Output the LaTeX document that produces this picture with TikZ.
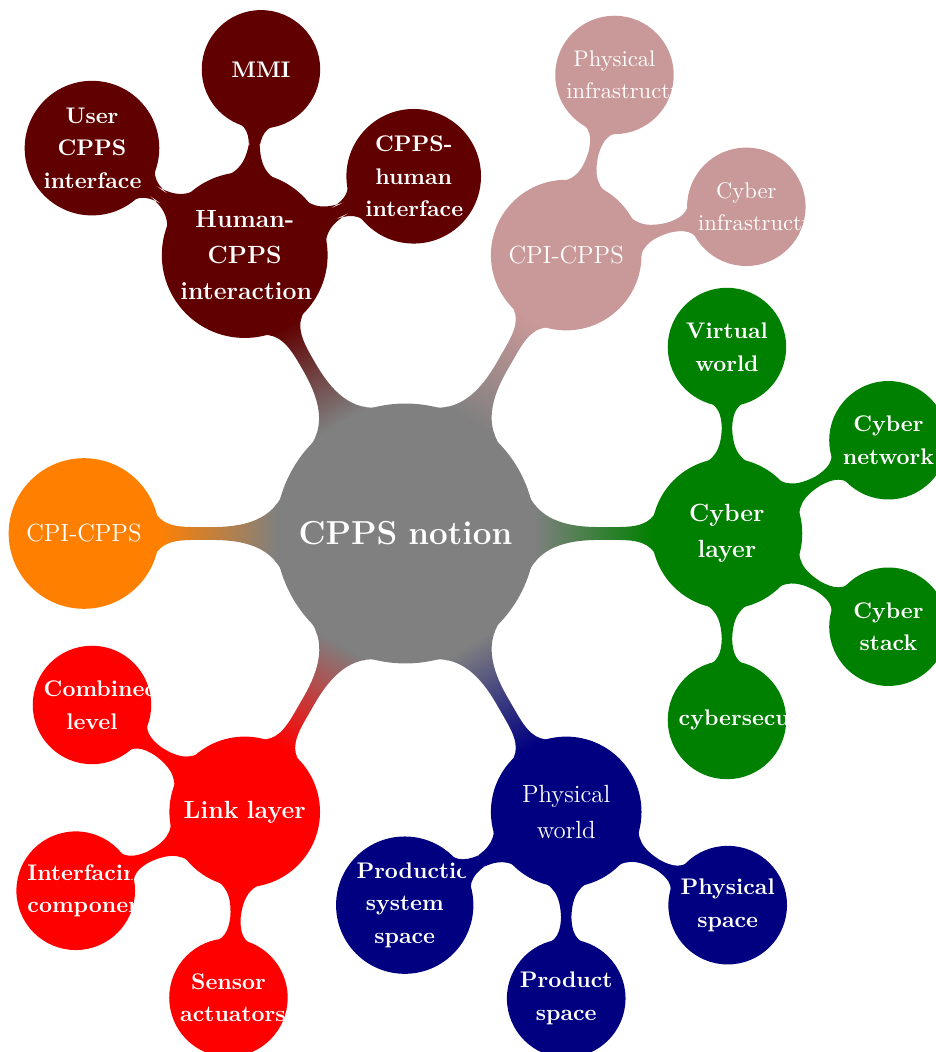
\documentclass[tikz,border=0pt]{standalone}
\usepackage{xcolor}
\usepackage{tikz}
\usetikzlibrary{mindmap,trees,positioning}

\definecolor{cppsRoot}{gray}{0.5}
\definecolor{cppsHuman}{HTML}{600000}
\definecolor{cppsCPI}{HTML}{C99898}
\definecolor{cppsCyber}{HTML}{008000}
\definecolor{cppsPhys}{HTML}{000080}
\definecolor{cppsLink}{HTML}{FF0000}
\definecolor{cppsOrange}{HTML}{FF8000}

\begin{document}
\begin{tikzpicture}[mindmap, text=white, concept color=cppsRoot,
    every node/.style={concept, execute at begin node={\hyphenpenalty=10000}},
    root concept/.append style={minimum size=4cm,
      text width=3.5cm, font=\fontsize{14.7}{18}\selectfont\bfseries},
    level 1 concept/.append style={minimum size=2.3cm, text width=2cm,
      font=\fontsize{11}{16}\selectfont},
    level 2 concept/.append style={minimum size=1.8cm, text width=1.5cm,
      font=\fontsize{10}{14.4}\selectfont},
    level 1/.append style={level distance=5cm},
    level 2/.append style={level distance=2.9cm}]
  \useasboundingbox (-6.306,-8.064) rectangle (8.250,8.297);
  \node[root concept] (notion) {CPPS notion}
    % human interaction
    child[concept color=cppsHuman, grow=120] {node (human) {\textbf{Human-CPPS interaction}}
      child[grow=145] {node (userif) {\textbf{User CPPS interface}}}
      child[grow=85] {node (mmi) {\textbf{MMI}}}
      child[grow=25] {node (humanif) {\textbf{CPPS-human interface}}}
    }
    % infrastructure
    child[concept color=cppsCPI, grow=60] {node (cpi) {CPI-CPPS}
      child[grow=75] {node (physinfra) {Physical infrastructure}}
      child[grow=15] {node (cyberinfra) {Cyber infrastructure}}
    }
    % cyber layer
    child[concept color=cppsCyber, grow=0] {node (cyber) {\textbf{Cyber layer}}
      child[grow=90] {node (virtual) {\textbf{Virtual world}}}
      child[grow=30] {node (network) {\textbf{Cyber network}}}
      child[grow=-30] {node (stack) {\textbf{Cyber stack}}}
      child[grow=-90] {node (security) {\textbf{cybersecurity}}}
    }
    % physical world
    child[concept color=cppsPhys, grow=-60] {node (phys) {Physical world}
      child[grow=-30] {node (physspace) {\textbf{Physical space}}}
      child[grow=-90] {node (prodspace) {\textbf{Product space}}}
      child[grow=-150] {node (syspace) {\textbf{Production system space}}}
    }
    % link layer
    child[concept color=cppsLink, grow=-120] {node (link) {\textbf{Link layer}}
      child[grow=145] {node (combined) {\textbf{Combined level}}}
      child[grow=-155] {node (interfacing) {\textbf{Interfacing component}}}
      child[grow=-95] {node (sensor) {\textbf{Sensor actuators}}}
    }
    % second CPI-CPPS
    child[concept color=cppsOrange, grow=180] {node (cpiorange) {CPI-CPPS}};
\end{tikzpicture}
\end{document}
